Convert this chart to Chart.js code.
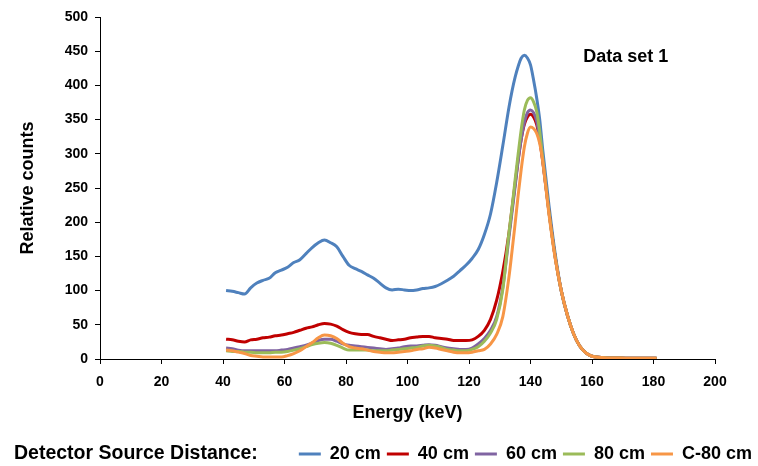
<!DOCTYPE html>
<html lang="en">
<head>
<meta charset="UTF-8">
<title>Data set 1</title>
<script src="https://cdn.jsdelivr.net/npm/chart.js"></script>
<style>
  body { margin: 0; background: #fff; }
  .wrap { position: relative; width: 758px; height: 466px; }
</style>
</head>
<body>
<div class="wrap"><canvas id="spectrum"></canvas></div>
<script>
// energy bins (keV) shared by all curves
const energies = [41, 43, 45, 47, 49, 51, 53, 55, 57, 59,
  61, 63, 65, 67, 69, 71, 73, 75, 77, 79,
  81, 83, 85, 87, 89, 91, 93, 95, 97, 99,
  101, 103, 105, 107, 109, 111, 113, 115, 117, 119,
  121, 123, 125, 127, 129, 131, 133,
  134, 135, 136, 137, 138, 139, 140, 141, 142, 143, 144,
  146, 148, 150, 152, 154, 156, 158, 160,
  164, 168, 172, 176, 181];

const counts20 = [100, 99, 97, 95, 104, 111, 115, 118, 126, 130,
  134, 141, 145, 154, 163, 170, 174, 170, 164, 150,
  137, 132, 128, 123, 118, 111, 104, 101, 102, 101,
  100, 101, 103, 104, 106, 110, 115, 121, 129, 137,
  147, 160, 182, 212, 258, 312, 368,
  392, 412, 428, 440, 444, 440, 430, 408, 382, 350, 305,
  225, 155, 100, 64, 37, 19, 9, 4,
  2, 1.5, 1, 1, 1];

const counts40 = [29, 28, 26, 25, 28, 29, 31, 32, 34, 35,
  37, 39, 42, 45, 47, 50, 52, 51, 48, 43,
  39, 37, 36, 36, 33, 31, 29, 27, 28, 29,
  31, 32, 33, 33, 31, 30, 29, 27, 27, 27,
  28, 33, 42, 58, 86, 128, 184,
  220, 256, 292, 322, 343, 354, 358, 354, 343, 320, 288,
  215, 150, 100, 64, 37, 19, 9, 4,
  2, 1.5, 1, 1, 1];

const counts60 = [16, 15, 13, 12, 12, 12, 12, 12, 12, 13,
  14, 16, 18, 20, 23, 27, 29, 29, 26, 22,
  20, 19, 18, 17, 16, 15, 14, 15, 16, 18,
  19, 19, 20, 21, 20, 18, 16, 15, 14, 14,
  16, 22, 30, 42, 62, 105, 178,
  215, 252, 290, 322, 346, 360, 364, 360, 348, 322, 290,
  215, 150, 100, 64, 37, 19, 9, 4,
  2, 1.5, 1, 1, 1];

const counts80 = [12, 11, 11, 10, 10, 9, 9, 9, 10, 10,
  11, 13, 15, 18, 21, 23, 24, 23, 20, 16,
  13, 13, 13, 13, 12, 12, 12, 13, 14, 15,
  16, 17, 19, 20, 19, 17, 14, 13, 12, 12,
  14, 18, 26, 38, 58, 102, 185,
  222, 262, 300, 336, 364, 378, 382, 376, 362, 332, 292,
  215, 150, 100, 64, 37, 19, 9, 4,
  2, 1.5, 1, 1, 1];

const countsC80 = [13, 12, 10, 8, 5, 4, 3, 3, 3, 3,
  5, 8, 12, 18, 24, 31, 35, 34, 30, 23,
  18, 16, 15, 13, 11, 10, 9, 9, 10, 11,
  12, 14, 15, 17, 16, 14, 12, 10, 9, 9,
  10, 12, 14, 22, 36, 62, 120,
  158, 198, 240, 278, 310, 330, 339, 337, 330, 315, 288,
  212, 148, 100, 64, 37, 19, 9, 4,
  2, 1.5, 1, 1, 1];

const seriesNames = ['20 cm', '40 cm', '60 cm', '80 cm', 'C-80 cm'];
const seriesColors = ['#4F81BD', '#C00000', '#8064A2', '#9BBB59', '#F79646'];
const seriesCounts = [counts20, counts40, counts60, counts80, countsC80];

const xTicks = [0, 20, 40, 60, 80, 100, 120, 140, 160, 180, 200];
const yTicks = [0, 50, 100, 150, 200, 250, 300, 350, 400, 450, 500];

const FONT = '"Liberation Sans", Arial, sans-serif';

function toPoints(values) {
  return energies.map((e, i) => ({ x: e, y: values[i] }));
}

const datasets = seriesNames.map((name, i) => ({
  label: name,
  data: toPoints(seriesCounts[i]),
  borderColor: seriesColors[i],
  backgroundColor: seriesColors[i],
  borderWidth: 3,
  pointRadius: 0,
  cubicInterpolationMode: 'monotone',
  order: seriesNames.length - 1 - i   // last series drawn on top
}));

// "Data set 1" label and the legend caption
const extraText = {
  id: 'extraText',
  afterDraw(chart) {
    const ctx = chart.ctx;
    const x = chart.scales.x, y = chart.scales.y;
    ctx.save();
    ctx.fillStyle = '#000';
    ctx.font = 'bold 18px ' + FONT;
    ctx.textAlign = 'center';
    ctx.textBaseline = 'middle';
    ctx.fillText('Data set 1', x.getPixelForValue(171), y.getPixelForValue(441));

    const box = chart.legend.legendHitBoxes[0];
    ctx.font = 'bold 19.5px ' + FONT;
    ctx.textAlign = 'left';
    ctx.fillText('Detector Source Distance:', 14, box.top + box.height / 2);
    ctx.restore();
  }
};

new Chart(document.getElementById('spectrum'), {
  type: 'line',
  data: { datasets: datasets },
  plugins: [extraText],
  options: {
    responsive: true,
    maintainAspectRatio: false,
    animation: false,
    layout: { padding: { left: 12, right: 0, top: 0, bottom: -7 } },
    plugins: {
      tooltip: { enabled: false },
      legend: {
        position: 'bottom',
        align: 'end',
        reverse: true,
        labels: {
          usePointStyle: true,
          pointStyle: 'line',
          pointStyleWidth: 22,
          padding: 6,
          color: '#000',
          font: { family: FONT, size: 18, weight: 'bold' }
        }
      }
    },
    scales: {
      x: {
        type: 'linear',
        min: 0,
        max: 200,
        afterBuildTicks: s => { s.ticks = xTicks.map(v => ({ value: v })); },
        afterFit: s => { s.height = 80; s.paddingRight = 43; },
        grid: { drawOnChartArea: false, color: '#000', tickLength: 5 },
        border: { color: '#000' },
        ticks: { color: '#000', padding: 10, maxRotation: 0, font: { family: FONT, size: 14, weight: 'bold' } },
        title: {
          display: true,
          text: 'Energy (keV)',
          color: '#000',
          padding: { top: 4, bottom: 15 },
          font: { family: FONT, size: 18, weight: 'bold' }
        }
      },
      y: {
        min: 0,
        max: 500,
        afterBuildTicks: s => { s.ticks = yTicks.map(v => ({ value: v })); },
        afterFit: s => { s.width = 88; s.paddingTop = 17; },
        grid: { drawOnChartArea: false, color: '#000', tickLength: 5 },
        border: { color: '#000' },
        ticks: { color: '#000', padding: 7, font: { family: FONT, size: 14, weight: 'bold' } },
        title: {
          display: true,
          text: 'Relative counts',
          color: '#000',
          padding: { top: 5, bottom: 4 },
          font: { family: FONT, size: 18, weight: 'bold' }
        }
      }
    }
  }
});
</script>
</body>
</html>
